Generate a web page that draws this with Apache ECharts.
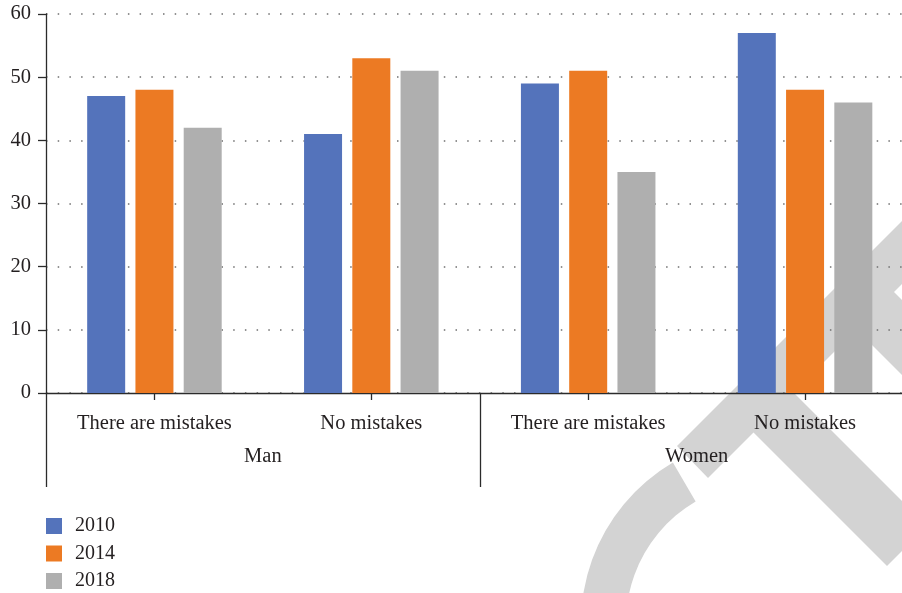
<!DOCTYPE html>
<html>
<head>
<meta charset="utf-8">
<script src="https://cdn.jsdelivr.net/npm/echarts@6/dist/echarts.min.js"></script>
<style>
  html, body { margin: 0; padding: 0; background: #ffffff; overflow: hidden; }
  /* the plot area runs a little past the right edge of the visible page */
  #chart { width: 914px; height: 593px; }
</style>
</head>
<body>
<div id="chart"></div>
<script>
// Answer categories (inner axis) and the respondent groups they belong to (outer axis)
const categories = ['There are mistakes', 'No mistakes', 'There are mistakes', 'No mistakes'];
const groups = ['Man', 'Women'];
const years = ['2010', '2014', '2018'];

// Survey values per year, one entry per answer category
const values2010 = [47, 41, 49, 57];
const values2014 = [48, 53, 51, 48];
const values2018 = [42, 51, 35, 46];

const yMin = 0;
const yMax = 60;
const yStep = 10;

const colors = ['#5473BB', '#EC7A23', '#AFAFAF'];
const textColor = '#231F20';
const axisColor = '#2b2b2b';
const fontFamily = '"Liberation Serif", "DejaVu Serif", serif';
const mark = '#D3D3D3';

const chart = echarts.init(document.getElementById('chart'), null, { renderer: 'canvas' });

const seriesValues = [values2010, values2014, values2018];

const option = {
  animation: false,
  backgroundColor: '#ffffff',
  textStyle: { fontFamily: fontFamily },
  grid: { left: 46, top: 14, bottom: 200, right: 0.5, containLabel: false, outerBoundsMode: 'none' },
  legend: {
    orient: 'vertical',
    left: 46,
    top: 516,
    height: 120,
    padding: 0,
    itemWidth: 16,
    itemHeight: 16,
    itemGap: 7.5,
    icon: 'rect',
    data: years,
    textStyle: {
      fontFamily: fontFamily,
      fontSize: 20,
      color: textColor,
      padding: [0, 0, 0, 8]
    }
  },
  xAxis: [
    {
      type: 'category',
      data: categories,
      position: 'bottom',
      axisLine: { show: true, lineStyle: { color: axisColor, width: 1.3 } },
      axisTick: { show: true, alignWithLabel: true, length: 7, lineStyle: { color: axisColor, width: 1.3 } },
      axisLabel: {
        interval: 0,
        margin: 20,
        fontFamily: fontFamily,
        fontSize: 20.5,
        color: textColor
      },
      splitLine: { show: false }
    },
    {
      type: 'category',
      data: groups,
      position: 'bottom',
      axisLine: { show: false },
      axisTick: { show: true, alignWithLabel: false, length: 94, lineStyle: { color: axisColor, width: 1.3 } },
      axisLabel: {
        interval: 0,
        margin: 53,
        fontFamily: fontFamily,
        fontSize: 20.5,
        color: textColor
      },
      splitLine: { show: false }
    }
  ],
  yAxis: {
    type: 'value',
    min: yMin,
    max: yMax,
    interval: yStep,
    axisLine: { show: true, lineStyle: { color: axisColor, width: 1.3 } },
    axisTick: { show: true, inside: false, length: 8, lineStyle: { color: axisColor, width: 1.3 } },
    axisLabel: {
      margin: 15,
      fontFamily: fontFamily,
      fontSize: 20.5,
      color: textColor
    },
    splitLine: {
      show: true,
      lineStyle: { color: '#6f6f6f', width: 1.5, type: [1.5, 10.2] }
    }
  },
  series: years.map((name, i) => ({
    name: name,
    type: 'bar',
    xAxisIndex: 0,
    yAxisIndex: 0,
    data: seriesValues[i],
    barWidth: 38,
    barGap: '27%',
    itemStyle: { color: colors[i] }
  })),
  graphic: {
    elements: [
      {
        type: 'sector',
        z: -10,
        silent: true,
        shape: {
          cx: 767, cy: 623, r0: 141, r: 186,
          startAngle: -200 * Math.PI / 180,
          endAngle: -120.4 * Math.PI / 180,
          clockwise: true
        },
        style: { fill: mark }
      },
      {
        type: 'polygon',
        z: -10,
        silent: true,
        shape: { points: [[677, 446], [708, 478], [1000, 186], [969, 154]] },
        style: { fill: mark }
      },
      {
        type: 'polygon',
        z: -10,
        silent: true,
        shape: { points: [[735.5, 414.5], [887, 566], [927, 526], [775.5, 374.5]] },
        style: { fill: mark }
      },
      {
        type: 'polygon',
        z: -10,
        silent: true,
        shape: { points: [[881, 279], [1151, 549], [1113.5, 586.5], [843.5, 316.5]] },
        style: { fill: mark }
      }
    ]
  }
};

chart.setOption(option);
</script>
</body>
</html>
